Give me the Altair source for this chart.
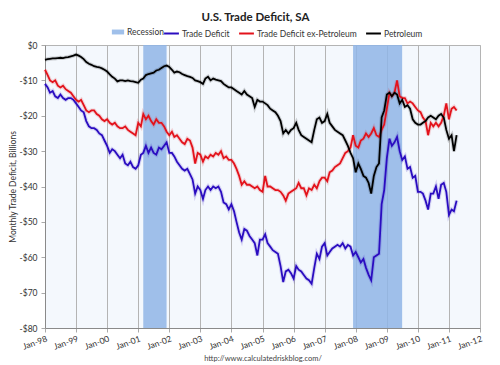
import altair as alt
import pandas as pd

# ---------------- data ----------------
months = pd.date_range("1998-01-01", periods=160, freq="MS").strftime("%Y-%m-%d").tolist()

trade_deficit = [
    -11.0, -12.0, -13.5, -13.0, -14.5, -15.0, -14.0, -15.0, -15.5, -15.0, -15.0, -15.5,  # 1998
    -16.5, -17.5, -18.5, -19.0, -21.5, -23.0, -23.5, -23.5, -24.0, -25.0, -25.5, -27.0,  # 1999
    -28.5, -30.5, -29.5, -30.0, -31.0, -32.0, -31.0, -33.5, -34.0, -33.0, -34.5, -35.0,  # 2000
    -34.0, -31.0, -30.5, -28.5, -30.5, -29.0, -30.5, -31.0, -29.0, -29.5, -28.5, -27.5,  # 2001
    -30.5, -30.5, -31.5, -33.0, -34.0, -35.0, -35.5, -35.0, -36.5, -38.0, -42.0, -40.0,  # 2002
    -41.0, -43.5, -41.0, -40.0, -41.0, -40.0, -40.5, -40.0, -41.5, -44.5, -45.0, -46.5,  # 2003
    -45.0, -47.0, -50.0, -53.0, -55.0, -52.0, -52.5, -54.0, -55.0, -56.0, -59.5, -55.0,  # 2004
    -55.0, -53.5, -56.0, -57.0, -58.0, -58.5, -59.0, -62.5, -67.0, -64.0, -63.5, -64.5,  # 2005
    -66.0, -62.5, -63.5, -64.0, -65.0, -66.0, -66.5, -67.5, -63.0, -59.0, -60.5, -57.0,  # 2006
    -56.0, -59.5, -58.5, -57.5, -57.0, -56.5, -57.0, -56.0, -57.5, -56.5, -57.0, -59.5,  # 2007
    -58.5, -60.0, -61.5, -60.5, -63.0, -65.0, -66.5, -60.0, -59.5, -59.0, -45.0, -41.0,  # 2008
    -32.0, -26.5, -28.5, -27.5, -26.0, -30.0, -32.5, -31.5, -35.0, -34.5, -37.5, -37.0,  # 2009
    -41.5, -41.5, -42.0, -44.0, -46.5, -42.0, -42.0, -40.0, -43.5, -39.5, -39.0, -41.5,  # 2010
    -48.0, -46.5, -47.0, -44.0,                                                          # 2011
]

ex_petroleum = [
    -7.0, -8.5, -10.0, -10.5, -10.0, -11.5, -12.0, -11.5, -12.5, -13.0, -13.5, -14.5,
    -15.5, -16.0, -15.5, -17.0, -18.5, -19.0, -18.5, -18.5, -19.5, -20.0, -21.0, -21.5,
    -21.0, -22.0, -22.5, -22.0, -23.0, -23.5, -23.5, -23.0, -24.0, -24.5, -25.0, -25.5,
    -22.0, -23.0, -19.5, -21.0, -20.0, -21.5, -22.5, -21.0, -22.0, -22.0, -23.0, -24.5,
    -25.5, -24.5, -26.0, -25.5, -26.5, -27.5, -28.0, -26.5, -27.0, -29.0, -33.5, -30.5,
    -31.0, -33.0, -31.5, -32.0, -31.0, -31.5, -30.5, -31.0, -30.0, -32.0, -31.5, -32.5,
    -32.5, -33.5, -35.0, -37.0, -39.5, -38.5, -39.5, -39.5, -40.0, -40.5, -40.0, -41.0,
    -41.5, -37.0, -40.0, -40.0, -40.5, -41.0, -41.0, -41.5, -42.5, -44.0, -42.0, -41.5,
    -41.0, -40.5, -39.0, -40.5, -40.5, -42.5, -40.5, -41.0, -39.5, -40.5, -38.5, -37.5,
    -37.5, -38.5, -36.0, -35.5, -34.5, -34.0, -33.5, -32.0, -30.5, -30.0, -29.0, -25.5,
    -28.5, -29.0, -27.0, -26.5, -25.0, -26.0, -25.0, -23.5, -25.5, -26.0, -24.0, -22.5,
    -18.0, -13.5, -14.5, -13.5, -10.0, -14.5, -15.0, -15.0, -16.5, -16.0, -16.5, -17.5,
    -18.5, -19.0, -20.5, -21.5, -25.5, -22.0, -23.0, -22.0, -23.0, -22.0, -20.0, -16.5,
    -21.0, -18.0, -17.5, -18.5,
]

petroleum = [
    -4.2, -4.0, -3.9, -3.8, -3.8, -3.7, -3.6, -3.7, -3.5, -3.4, -3.2, -3.0,
    -2.7, -3.0, -3.4, -4.0, -4.8, -5.3, -5.6, -6.0, -6.2, -6.3, -6.6, -7.0,
    -7.5, -8.3, -9.0, -9.5, -10.3, -10.0, -10.0, -10.2, -10.0, -10.2, -10.3, -10.5,
    -10.7, -9.8, -9.5, -8.5, -8.2, -8.0, -7.8, -7.2, -7.0, -6.5, -6.0, -5.8,
    -6.2, -7.0, -7.8, -7.5, -7.7, -8.2, -8.5, -8.8, -9.0, -9.3, -10.0, -10.2,
    -10.5, -11.0, -9.5, -9.0, -10.0, -9.5, -9.8, -10.0, -10.2, -11.0, -11.5, -12.0,
    -12.0, -12.5, -13.0, -13.5, -14.0, -13.0, -14.0, -14.5, -15.0, -17.5, -15.5, -16.0,
    -16.0, -16.5, -17.0, -18.0, -18.5, -19.0, -20.0, -21.5, -25.0, -24.0, -25.0, -24.0,
    -23.5, -22.0, -24.0, -25.5, -26.0, -26.5, -27.0, -27.5, -24.0, -21.0, -20.5, -22.0,
    -21.5, -19.5, -22.0, -23.0, -24.0, -24.5, -25.0, -25.5, -27.0, -28.5, -30.5, -32.0,
    -36.0, -33.5, -35.0, -37.0, -37.5, -39.0, -42.0, -37.0, -34.5, -33.5, -20.5, -18.5,
    -14.0, -13.5, -14.5, -13.5, -14.0, -16.5, -15.5, -17.5, -17.0, -18.0, -21.0, -22.0,
    -22.5, -22.5, -22.0, -21.5, -20.5, -20.0, -20.5, -21.0, -20.0, -19.5, -20.5, -24.0,
    -26.5, -25.5, -30.0, -25.5,
]

recession_start = ["2001-03-01", "2007-12-01"]
recession_end = ["2001-11-30", "2009-06-30"]

series_names = ["Trade Deficit", "Trade Deficit ex-Petroleum", "Petroleum"]
series_colors = ["#2a0cc0", "#e3121b", "#000000"]
year_ticks = list(range(1998, 2013))
y_ticks = list(range(-80, 1, 10))

# ---------------- tables ----------------
rows = []
for name, vals in zip(series_names, [trade_deficit, ex_petroleum, petroleum]):
    for d, v in zip(months, vals):
        rows.append({"date": d, "value": v, "series": name})
lines_df = pd.DataFrame(rows)
rec_df = pd.DataFrame({"start": recession_start, "end": recession_end,
                       "label": ["Recession"] * len(recession_start)})

FONT = "Lato"
x_scale = alt.Scale(type="utc", domain=[alt.DateTime(year=1998, month=1, date=1, utc=True),
                                        alt.DateTime(year=2012, month=1, date=1, utc=True)])
y_scale = alt.Scale(domain=[-80, 0], nice=False)

x_axis = alt.Axis(
    values=[alt.DateTime(year=y, month=1, date=1, utc=True) for y in year_ticks],
    labelExpr="utcFormat(datum.value, '%b-%y')", labelAngle=340, labelAlign="right",
    labelBaseline="top", labelPadding=2, labelFontSize=8.5, labelColor="#333",
    labelFont=FONT, tickSize=4, tickColor="#aaa", gridColor="#b4b4b4",
    domainColor="#8a8a8a", title="http://www.calculatedriskblog.com/",
    titleFontSize=7.5, titleFont=FONT, titleFontWeight="normal", titleColor="#444",
    titleY=30, titleBaseline="middle",
)
y_axis = alt.Axis(
    values=y_ticks,
    labelExpr="datum.value < 0 ? '-$' + abs(datum.value) : '$' + datum.value",
    labelFontSize=8.5, labelColor="#333", labelFont=FONT, labelPadding=4,
    tickSize=4, tickColor="#aaa", gridColor="#b4b4b4", domainColor="#8a8a8a",
    title="Monthly Trade Deficit, Billions", titleFontSize=8.5, titleFont=FONT,
    titleFontWeight="normal", titleColor="#333", titleX=-33, titleY=141.5,
    titleAngle=270, titleAlign="center", titleBaseline="middle",
)

line_legend = alt.Legend(orient="none", legendX=118, legendY=-20, title=None,
                         direction="horizontal", symbolType="stroke",
                         symbolSize=220, symbolStrokeWidth=2, symbolOpacity=1,
                         labelFontSize=8.5, labelFont=FONT, labelColor="#333",
                         labelOffset=2, columnPadding=5)
color_scale = alt.Scale(domain=series_names, range=series_colors)

rect = alt.Chart(rec_df).mark_rect(opacity=0.85).encode(
    x=alt.X("start:T", scale=x_scale, axis=x_axis),
    x2="end:T",
    y=alt.datum(0, scale=y_scale, axis=y_axis),
    y2=alt.datum(-80),
    fill=alt.Fill("label:N", scale=alt.Scale(domain=["Recession"], range=["#8fb5e6"]),
                  legend=alt.Legend(orient="none", legendX=66, legendY=-20, title=None,
                                    symbolType="M-1,-0.4H1V0.4H-1Z", symbolSize=150,
                                    symbolOpacity=0.85, labelFontSize=8.5, labelFont=FONT,
                                    labelColor="#333", labelOffset=2)),
)

glow = alt.Chart(lines_df).mark_line(strokeWidth=4, opacity=0.16).encode(
    x=alt.X("date:T", scale=x_scale, axis=x_axis),
    y=alt.Y("value:Q", scale=y_scale, axis=y_axis),
    color=alt.Color("series:N", scale=color_scale, legend=line_legend),
)

lines = alt.Chart(lines_df).mark_line(strokeWidth=1.8).encode(
    x=alt.X("date:T", scale=x_scale, axis=x_axis),
    y=alt.Y("value:Q", scale=y_scale, axis=y_axis),
    color=alt.Color("series:N", scale=color_scale, legend=line_legend),
)

chart = alt.layer(rect, glow, lines).properties(
    width=435,
    height=283,
    autosize="none",
    padding={"left": 37, "top": 37, "right": 12, "bottom": 34},
    title=alt.TitleParams("U.S. Trade Deficit, SA", fontSize=11.5, font=FONT,
                          fontWeight="bold", color="#222", offset=2, dx=-7),
    background="white",
).configure_view(fill="#f4f8fd", stroke="#b4b4b4")

chart.save("out.html", embed_options={"renderer": "svg", "actions": False})
